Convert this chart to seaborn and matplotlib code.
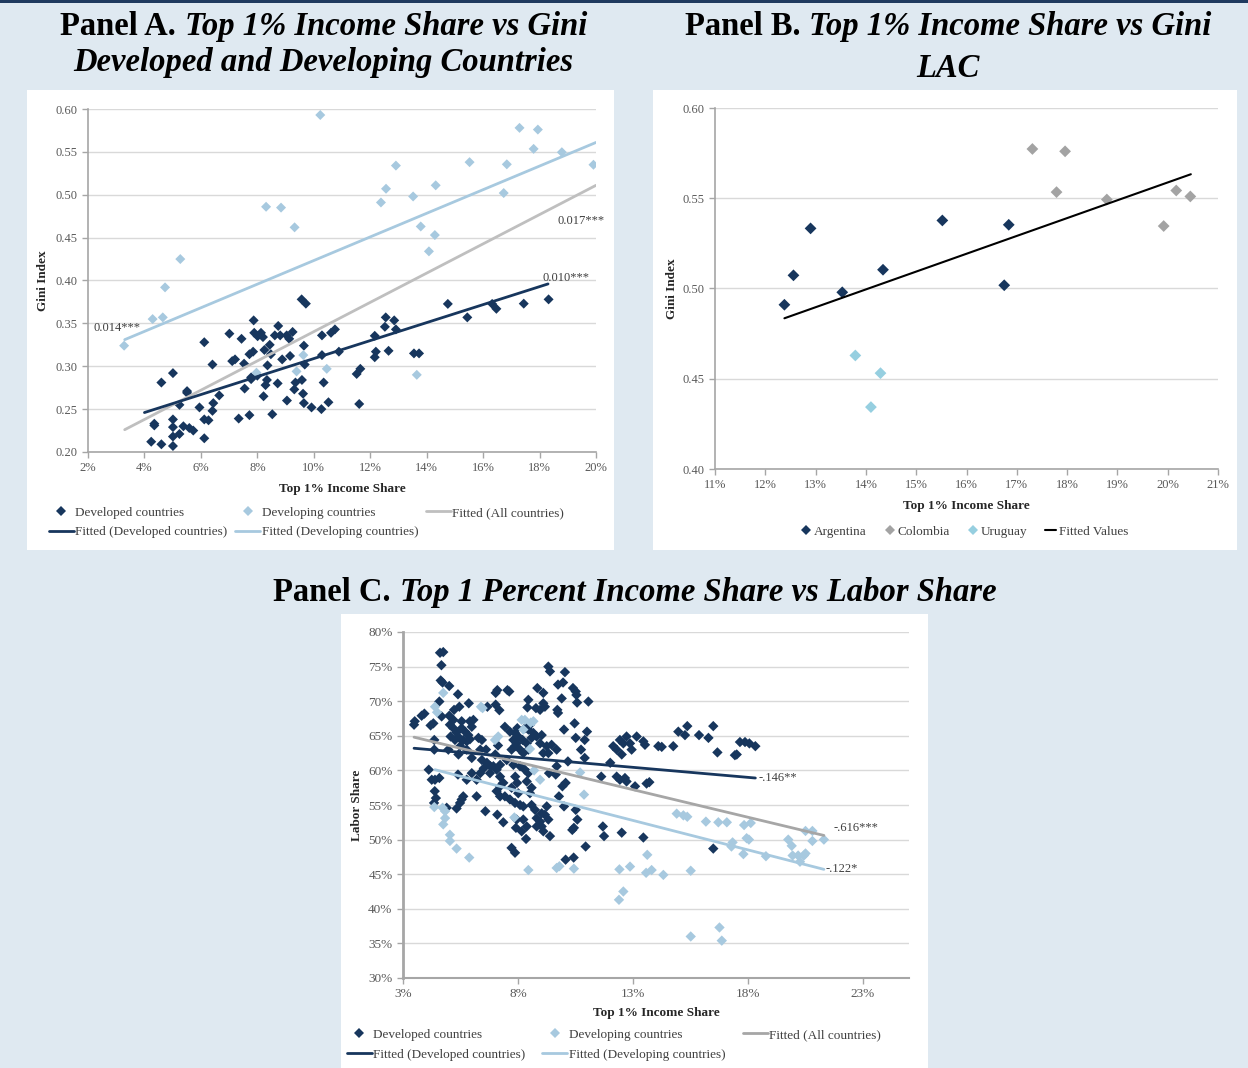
import numpy as np
import pandas as pd
import matplotlib
matplotlib.use("Agg")
import matplotlib.pyplot as plt
import seaborn as sns
from matplotlib.patches import Rectangle
from matplotlib.lines import Line2D
from matplotlib.ticker import FuncFormatter

# ---------------- DATA ----------------
# Panel A: Top 1% income share (%) vs Gini
a_dev_x = [4.24, 4.35, 4.35, 4.60, 4.60, 5.01, 5.01, 5.01, 5.01, 5.01, 5.24, 5.24, 5.38, 5.51, 5.51,
           5.59, 5.73, 5.95, 6.12, 6.12, 6.12, 6.27, 6.41, 6.41, 6.44, 6.65, 7.01, 7.11, 7.21, 7.34,
           7.44, 7.53, 7.55, 7.72, 7.72, 7.85, 7.87, 7.89, 7.78, 7.78, 8.00, 8.01, 8.13, 8.20, 8.25,
           8.22, 8.29, 8.34, 8.36, 8.44, 8.48, 8.53, 8.62, 8.72, 8.74, 8.81, 8.88, 9.04, 9.13, 9.25,
           9.05, 9.16, 9.31, 9.35, 9.58, 9.65, 9.62, 9.65, 9.68, 9.92, 10.27, 10.29, 10.29, 10.35,
           9.57, 9.72, 10.52, 10.61, 10.75, 10.89, 11.52, 11.65, 11.61, 12.16, 12.20, 12.16, 12.52,
           12.55, 12.85, 12.91, 12.65, 13.55, 13.73, 14.75, 15.44, 16.32, 16.47, 17.44, 18.32]
a_dev_y = [0.212, 0.233, 0.231, 0.209, 0.281, 0.292, 0.238, 0.229, 0.218, 0.207, 0.221, 0.255, 0.230, 0.271, 0.269,
           0.228, 0.225, 0.252, 0.328, 0.216, 0.238, 0.237, 0.302, 0.248, 0.257, 0.266, 0.338, 0.306, 0.308, 0.239,
           0.332, 0.303, 0.274, 0.314, 0.243, 0.317, 0.3535, 0.339, 0.287, 0.285, 0.289, 0.335, 0.339, 0.334, 0.319,
           0.265, 0.278, 0.284, 0.301, 0.325, 0.314, 0.244, 0.336, 0.280, 0.347, 0.336, 0.308, 0.336, 0.332, 0.340,
           0.260, 0.312, 0.273, 0.281, 0.284, 0.324, 0.268, 0.257, 0.302, 0.252, 0.250, 0.336, 0.313, 0.281,
           0.378, 0.373, 0.258, 0.339, 0.343, 0.317, 0.291, 0.297, 0.256, 0.3355, 0.317, 0.3105, 0.346,
           0.357, 0.3535, 0.343, 0.318, 0.315, 0.315, 0.3727, 0.357, 0.3727, 0.367, 0.373, 0.378]
a_dvg_x = [3.28, 4.29, 4.65, 4.73, 5.27, 7.97, 8.31, 8.84, 9.32, 9.39, 9.63, 10.23, 10.46, 12.38, 12.56,
           12.91, 13.52, 13.65, 13.79, 14.08, 14.29, 14.32, 15.52, 16.73, 16.84, 17.29, 17.79, 17.94, 18.79, 19.91]
a_dvg_y = [0.324, 0.355, 0.357, 0.392, 0.425, 0.2925, 0.486, 0.485, 0.462, 0.294, 0.313, 0.593, 0.297, 0.491, 0.507,
           0.534, 0.498, 0.290, 0.463, 0.434, 0.453, 0.511, 0.538, 0.502, 0.5355, 0.578, 0.5535, 0.576, 0.5496, 0.535]
# fitted lines (endpoints) panel A
a_fit_all_x, a_fit_all_y = [3.3, 20.0], [0.226, 0.511]
a_fit_dev_x, a_fit_dev_y = [4.0, 18.3], [0.246, 0.396]
a_fit_dvg_x, a_fit_dvg_y = [3.3, 20.0], [0.331, 0.561]
a_coef_labels = ["0.014***", "0.017***", "0.010***"]

# Panel B: LAC
b_arg_x = [12.38, 12.56, 12.90, 13.53, 14.34, 15.52, 16.75, 16.84]
b_arg_y = [0.491, 0.5073, 0.5333, 0.4979, 0.5104, 0.5377, 0.5018, 0.5353]
b_col_x = [17.31, 17.96, 17.79, 18.79, 19.92, 20.17, 20.45]
b_col_y = [0.5773, 0.5760, 0.5534, 0.5493, 0.5346, 0.5543, 0.5510]
b_uru_x = [13.79, 14.29, 14.10]
b_uru_y = [0.4629, 0.4531, 0.4343]
b_fit_x, b_fit_y = [12.38, 20.46], [0.4835, 0.5633]

# Panel C: Top 1% income share (%) vs labor share (%)
c_dev = [
    (4.61, 77.0), (4.75, 77.1), (4.67, 75.2), (4.64, 73.0), (4.72, 72.7), (5.01, 72.2), (4.58, 69.95),
    (5.39, 71.0), (5.86, 69.7), (5.22, 68.75), (5.45, 69.2), (5.01, 67.9), (4.68, 67.8), (4.32, 66.8),
    (3.93, 68.2), (3.81, 67.9), (3.51, 67.1), (3.48, 66.6), (4.20, 66.5), (5.04, 66.6), (5.19, 66.1),
    (5.33, 65.5), (5.55, 66.1), (5.70, 65.6), (5.84, 65.1), (5.45, 64.7), (5.26, 64.4), (5.07, 64.9),
    (5.62, 64.4), (5.77, 64.2), (5.91, 64.5), (5.99, 66.3), (6.06, 67.3), (5.91, 67.1), (5.19, 67.3),
    (5.55, 67.1), (4.36, 64.4), (4.36, 63.0), (4.97, 63.0), (5.41, 62.3), (5.49, 63.5), (5.77, 63.0),
    (5.99, 61.8), (6.28, 64.7), (6.43, 64.4), (6.36, 63.0), (6.61, 63.0), (6.43, 61.5), (6.65, 61.1),
    (6.51, 60.3), (6.80, 60.6), (7.01, 62.3), (7.13, 63.6), (6.67, 69.2), (7.03, 71.2), (7.10, 71.6),
    (7.03, 69.5), (7.19, 68.7), (7.54, 71.6), (7.62, 71.4), (7.43, 66.3), (7.65, 65.6), (7.80, 64.4),
    (7.94, 63.9), (7.87, 63.5), (8.09, 63.0), (7.72, 63.0), (8.01, 64.9), (8.20, 64.4), (8.38, 63.9),
    (8.45, 63.0), (8.23, 62.5), (8.59, 64.7), (8.67, 65.4), (8.45, 65.9), (8.52, 66.6), (8.30, 66.1),
    (7.97, 66.1), (7.87, 65.4), (8.81, 64.9), (8.96, 63.9), (9.03, 65.1), (9.25, 63.5), (9.46, 63.7),
    (9.68, 63.0), (9.32, 62.5), (9.10, 62.5), (8.45, 70.2), (8.41, 69.1), (8.78, 69.0), (8.96, 68.75),
    (9.10, 69.7), (9.17, 69.2), (8.84, 71.9), (9.10, 71.2), (9.32, 75.0), (9.39, 74.3), (10.04, 74.2),
    (9.74, 72.4), (9.96, 72.7), (9.71, 68.75), (9.74, 68.3), (9.90, 70.4), (10.39, 71.9), (10.51, 71.4),
    (10.54, 70.9), (10.57, 69.8), (11.06, 69.95), (10.00, 65.9), (10.46, 66.8), (10.51, 64.7), (11.00, 65.6),
    (10.90, 64.4), (10.74, 63.0), (10.90, 61.8), (10.17, 61.3), (9.68, 60.6), (9.35, 59.6), (9.64, 59.4),
    (10.07, 58.2), (9.93, 57.7), (9.78, 56.25), (10.00, 54.8), (10.51, 54.3), (10.58, 52.9), (10.36, 51.4),
    (10.43, 51.7), (9.17, 53.6), (9.32, 52.9), (9.25, 54.8), (9.03, 53.8), (8.96, 52.6), (8.81, 53.1),
    (8.74, 54.3), (9.03, 51.9), (8.81, 51.9), (9.10, 51.2), (9.39, 50.5), (8.59, 55.0), (8.52, 56.7),
    (8.59, 57.5), (8.38, 58.4), (8.45, 59.6), (8.30, 60.1), (8.09, 60.6), (7.80, 60.8), (7.51, 61.5),
    (7.22, 60.8), (7.07, 60.1), (6.93, 60.6), (6.78, 59.6), (7.22, 59.1), (7.36, 58.2), (7.22, 57.7),
    (7.07, 57.0), (7.22, 56.25), (7.43, 56.25), (7.65, 55.8), (7.87, 55.3), (8.09, 55.0), (7.96, 58.2),
    (7.88, 59.1), (7.72, 57.5), (8.01, 56.7), (8.23, 54.8), (7.94, 52.9), (8.23, 52.9), (8.38, 51.9),
    (8.16, 51.2), (8.35, 50.1), (7.91, 51.7), (7.72, 48.8), (7.87, 48.1), (7.10, 53.6), (7.36, 52.5),
    (6.58, 54.1), (6.20, 56.25), (5.99, 59.6), (5.77, 58.65), (6.20, 58.65), (6.36, 59.6), (5.55, 55.8),
    (5.62, 56.25), (5.48, 55.3), (5.33, 54.5), (5.39, 59.4), (4.12, 60.1), (4.25, 58.65), (4.39, 58.65),
    (4.58, 58.9), (4.38, 57.0), (4.43, 56.0), (4.35, 55.3), (4.90, 54.6), (10.07, 47.1), (10.42, 47.4),
    (10.94, 49.0), (11.69, 51.9), (11.74, 50.5), (12.51, 51.0), (13.45, 50.3), (11.62, 59.1), (12.01, 61.1),
    (12.14, 63.5), (12.29, 63.0), (12.43, 64.4), (12.58, 63.9), (12.72, 64.9), (12.87, 63.9), (12.94, 63.0),
    (12.51, 62.3), (13.16, 64.9), (13.45, 64.2), (13.52, 63.7), (12.29, 59.1), (12.43, 58.65), (12.65, 58.9),
    (12.72, 58.4), (13.09, 57.7), (13.59, 58.1), (13.71, 58.3), (14.10, 63.5), (14.25, 63.4), (14.75, 63.5),
    (14.97, 65.6), (15.26, 65.1), (15.36, 66.4), (15.87, 65.1), (16.28, 64.7), (16.49, 66.4), (16.67, 62.6),
    (17.43, 62.2), (17.51, 62.3), (17.65, 64.1), (17.87, 64.1), (18.06, 63.9), (18.32, 63.5), (16.49, 48.7),
]
c_dev_x = [p[0] for p in c_dev]
c_dev_y = [p[1] for p in c_dev]
c_dvg = [
    (4.39, 69.2), (4.75, 71.2), (4.48, 68.4), (6.39, 69.2), (6.46, 69.0), (7.00, 64.4), (7.14, 64.9),
    (8.16, 67.3), (8.30, 67.3), (8.55, 66.9), (8.67, 67.1), (8.23, 65.9), (8.52, 63.1), (8.70, 60.0),
    (8.96, 58.65), (10.70, 59.7), (10.87, 56.5), (4.36, 54.7), (4.72, 54.6), (4.83, 54.1), (4.83, 53.1),
    (4.75, 52.2), (5.04, 50.7), (5.04, 49.8), (5.33, 48.7), (5.88, 47.4), (7.84, 53.2), (8.45, 45.6),
    (9.68, 45.9), (9.80, 46.15), (10.43, 45.8), (12.41, 45.7), (12.87, 46.1), (13.62, 47.8), (13.57, 45.2),
    (13.81, 45.6), (14.32, 44.9), (15.51, 45.5), (14.90, 53.75), (15.19, 53.5), (15.36, 53.3), (16.17, 52.6),
    (16.71, 52.5), (17.08, 52.5), (17.83, 52.1), (18.12, 52.4), (17.94, 50.2), (18.04, 50.0), (19.75, 50.0),
    (20.50, 51.25), (20.80, 51.25), (21.30, 50.0), (20.80, 49.8), (17.33, 49.6), (17.28, 49.0), (19.90, 49.1),
    (12.39, 41.3), (12.58, 42.5), (15.51, 36.0), (16.76, 37.3), (16.86, 35.4), (17.80, 47.9), (18.78, 47.6),
    (19.94, 47.7), (20.18, 47.7), (20.26, 46.8), (20.43, 47.7), (20.50, 48.0),
]
c_dvg_x = [p[0] for p in c_dvg]
c_dvg_y = [p[1] for p in c_dvg]
c_fit_all_x, c_fit_all_y = [3.48, 21.3], [64.8, 50.6]
c_fit_dev_x, c_fit_dev_y = [3.48, 18.32], [63.2, 58.9]
c_fit_dvg_x, c_fit_dvg_y = [4.39, 21.3], [60.1, 45.7]
c_coef_labels = ["-.146**", "-.616***", "-.122*"]

# ---------------- STYLE ----------------
sns.set_theme(style="white")
plt.rcParams['font.family'] = ['Liberation Serif', 'DejaVu Serif']

W, H = 1248, 1068
BG = '#dfe9f1'
DARK = '#17365d'
LIGHT = '#a7c9df'
URU = '#96cfe0'
GRAYPT = '#a3a3a3'
GRAYFIT = '#bfbfbf'
GRAYFIT_C = '#a6a6a6'
TICKC = '#595959'
GRID = '#d9d9d9'

fig = plt.figure(figsize=(W / 100, H / 100), dpi=100, facecolor=BG)


def fx(px):
    return px / W


def fy(py):
    return 1 - py / H


def box(x0, y0, x1, y1, color='white'):
    fig.patches.append(Rectangle((fx(x0), fy(y1)), fx(x1) - fx(x0), fy(y0) - fy(y1),
                                 transform=fig.transFigure, facecolor=color, edgecolor='none', zorder=-5))


box(0, 0, W, 3, '#1f3a5f')
box(27, 90, 614, 550)
box(653, 90, 1237, 550)
box(341, 614, 928, 1068)


def add_axes(x0, y0, x1, y1):
    ax = fig.add_axes([fx(x0), fy(y1), fx(x1) - fx(x0), fy(y0) - fy(y1)])
    ax.set_facecolor('none')
    ax.set_zorder(1)
    for s in ['top', 'right']:
        ax.spines[s].set_visible(False)
    for s in ['left', 'bottom']:
        ax.spines[s].set_color('#a6a6a6')
        ax.spines[s].set_linewidth(1.2)
    ax.yaxis.grid(True, color=GRID, lw=1)
    ax.xaxis.grid(False)
    ax.set_axisbelow(True)
    ax.tick_params(axis='both', colors='#a6a6a6', labelcolor=TICKC, labelsize=9, length=4, width=1,
                   direction='out', left=True, bottom=True)
    return ax


pct = FuncFormatter(lambda v, p: f"{v:.0f}%")

# ---------------- PANEL A ----------------
axA = add_axes(88, 109, 596, 452)
sns.scatterplot(x=a_dev_x, y=a_dev_y, marker='D', s=26, color=DARK, edgecolor='none', ax=axA, zorder=3)
sns.scatterplot(x=a_dvg_x, y=a_dvg_y, marker='D', s=26, color=LIGHT, edgecolor='none', ax=axA, zorder=3)
sns.lineplot(x=a_fit_all_x, y=a_fit_all_y, color=GRAYFIT, lw=2, ax=axA, zorder=4)
sns.lineplot(x=a_fit_dev_x, y=a_fit_dev_y, color=DARK, lw=2, ax=axA, zorder=4)
sns.lineplot(x=a_fit_dvg_x, y=a_fit_dvg_y, color=LIGHT, lw=2, ax=axA, zorder=4)
axA.set_xlim(2, 20)
axA.set_ylim(0.2, 0.6)
axA.set_xticks(np.arange(2, 21, 2))
axA.set_yticks(np.arange(0.2, 0.601, 0.05))
axA.xaxis.set_major_formatter(pct)
axA.yaxis.set_major_formatter(FuncFormatter(lambda v, p: f"{v:.2f}"))
axA.set_xlabel("Top 1% Income Share", fontsize=9.5, fontweight='bold', color='#262626', labelpad=6)
axA.set_ylabel("Gini Index", fontsize=9.5, fontweight='bold', color='#262626', labelpad=5)
axA.text(2.18, 0.3445, a_coef_labels[0], fontsize=9, color='#404040', ha='left', va='center')
axA.text(18.62, 0.469, a_coef_labels[1], fontsize=9, color='#404040', ha='left', va='center')
axA.text(18.12, 0.403, a_coef_labels[2], fontsize=9, color='#404040', ha='left', va='center')

# ---------------- PANEL B ----------------
axB = add_axes(715, 108, 1218, 469)
sns.scatterplot(x=b_arg_x, y=b_arg_y, marker='D', s=36, color=DARK, edgecolor='none', ax=axB, zorder=3)
sns.scatterplot(x=b_col_x, y=b_col_y, marker='D', s=36, color=GRAYPT, edgecolor='none', ax=axB, zorder=3)
sns.scatterplot(x=b_uru_x, y=b_uru_y, marker='D', s=36, color=URU, edgecolor='none', ax=axB, zorder=3)
sns.lineplot(x=b_fit_x, y=b_fit_y, color='black', lw=1.5, ax=axB, zorder=4)
axB.set_xlim(11, 21)
axB.set_ylim(0.4, 0.6)
axB.set_xticks(np.arange(11, 22, 1))
axB.set_yticks(np.arange(0.4, 0.601, 0.05))
axB.xaxis.set_major_formatter(pct)
axB.yaxis.set_major_formatter(FuncFormatter(lambda v, p: f"{v:.2f}"))
axB.set_xlabel("Top 1% Income Share", fontsize=9.5, fontweight='bold', color='#262626', labelpad=6)
axB.set_ylabel("Gini Index", fontsize=9.5, fontweight='bold', color='#262626', labelpad=3)

# ---------------- PANEL C ----------------
axC = add_axes(403, 632, 909, 978)
sns.scatterplot(x=c_dev_x, y=c_dev_y, marker='D', s=28, color=DARK, edgecolor='none', ax=axC, zorder=3)
sns.scatterplot(x=c_dvg_x, y=c_dvg_y, marker='D', s=28, color=LIGHT, edgecolor='none', ax=axC, zorder=3)
sns.lineplot(x=c_fit_all_x, y=c_fit_all_y, color=GRAYFIT_C, lw=2, ax=axC, zorder=4)
sns.lineplot(x=c_fit_dev_x, y=c_fit_dev_y, color=DARK, lw=2, ax=axC, zorder=4)
sns.lineplot(x=c_fit_dvg_x, y=c_fit_dvg_y, color=LIGHT, lw=2, ax=axC, zorder=4)
axC.set_xlim(3, 25)
axC.set_ylim(30, 80)
axC.set_xticks([3, 8, 13, 18, 23])
axC.set_yticks(np.arange(30, 81, 5))
axC.xaxis.set_major_formatter(pct)
axC.yaxis.set_major_formatter(pct)
axC.spines['left'].set_linewidth(2)
axC.spines['bottom'].set_linewidth(1.5)
axC.tick_params(labelsize=9.5)
axC.set_xlabel("Top 1% Income Share", fontsize=9.5, fontweight='bold', color='#262626', labelpad=5)
axC.set_ylabel("Labor Share", fontsize=9.5, fontweight='bold', color='#262626', labelpad=4)
axC.text(18.45, 58.9, c_coef_labels[0], fontsize=9, color='#404040', ha='left', va='center')
axC.text(21.7, 51.7, c_coef_labels[1], fontsize=9, color='#404040', ha='left', va='center')
axC.text(21.35, 45.8, c_coef_labels[2], fontsize=9, color='#404040', ha='left', va='center')

# ---------------- LEGENDS ----------------
def dia(c, ms=5.5):
    return Line2D([], [], marker='D', color=c, lw=0, markersize=ms, markeredgewidth=0)


def ln(c, lw=2):
    return Line2D([], [], color=c, lw=lw)


legA_h = [dia(DARK), ln(DARK), dia(LIGHT), ln(LIGHT), ln(GRAYFIT)]
legA_l = ["Developed countries", "Fitted (Developed countries)", "Developing countries",
          "Fitted (Developing countries)", "Fitted (All countries)"]
fig.legend(legA_h, legA_l, loc='upper left', bbox_to_anchor=(fx(42), fy(500)), ncol=3, frameon=False,
           fontsize=9.5, handlelength=1.9, handletextpad=0.1, columnspacing=0.6, labelspacing=0.55,
           labelcolor='#404040', borderpad=0)

legB_h = [dia(DARK), dia(GRAYPT), dia(URU), ln('black', 1.5)]
legB_l = ["Argentina", "Colombia", "Uruguay", "Fitted Values"]
fig.legend(legB_h, legB_l, loc='upper left', bbox_to_anchor=(fx(794), fy(519)), ncol=4, frameon=False,
           fontsize=9.5, handlelength=0.8, handletextpad=0.2, columnspacing=1.35,
           labelcolor='#404040', borderpad=0)

legC_h = [dia(DARK), ln(DARK), dia(LIGHT), ln(LIGHT), ln(GRAYFIT_C)]
fig.legend(legC_h, legA_l, loc='upper left', bbox_to_anchor=(fx(340), fy(1022)), ncol=3, frameon=False,
           fontsize=9.5, handlelength=1.9, handletextpad=0.1, columnspacing=1.3, labelspacing=0.6,
           labelcolor='#404040', borderpad=0)

# ---------------- TITLES ----------------
renderer = fig.canvas.get_renderer()


def mixed_title(cx, py, parts, size=23.5):
    texts = []
    for s, style in parts:
        t = fig.text(0, fy(py), s, fontsize=size, fontweight='bold', fontstyle=style,
                     color='black', ha='left', va='baseline', transform=fig.transFigure)
        texts.append(t)
    gap = 9
    widths = [t.get_window_extent(renderer).width for t in texts]
    total = sum(widths) + gap * (len(texts) - 1)
    x = cx - total / 2
    for t, w in zip(texts, widths):
        t.set_x(fx(x))
        x += w + gap


mixed_title(324, 35, [("Panel A.", 'normal'), ("Top 1% Income Share vs Gini", 'italic')])
mixed_title(323, 71, [("Developed and Developing Countries", 'italic')])
mixed_title(948, 35, [("Panel B.", 'normal'), ("Top 1% Income Share vs Gini", 'italic')])
mixed_title(948, 77, [("LAC", 'italic')])
mixed_title(635, 601, [("Panel C.", 'normal'), ("Top 1 Percent Income Share vs Labor Share", 'italic')])

fig.savefig("out.png", dpi=100, facecolor=BG)
